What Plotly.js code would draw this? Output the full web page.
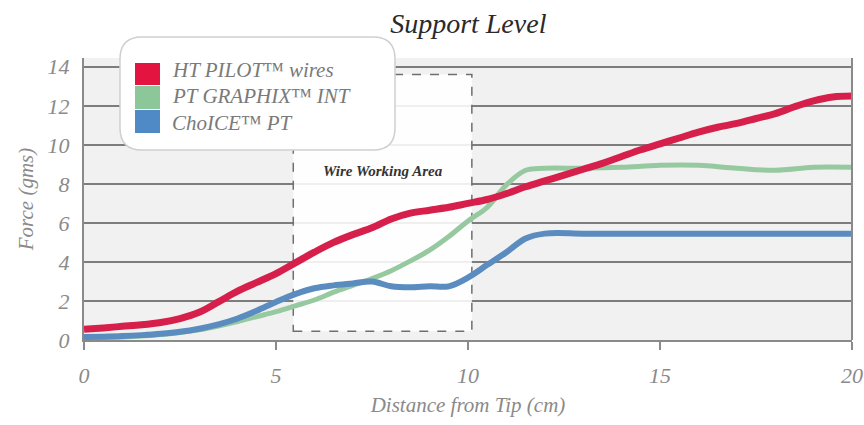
<!DOCTYPE html>
<html>
<head>
<meta charset="utf-8">
<script src="https://cdn.plot.ly/plotly-3.0.1.min.js"></script>
<style>html,body{margin:0;padding:0;background:#fff;}#chart{width:864px;height:425px;}</style>
</head>
<body>
<div id="chart"></div>
<script>
// ---- data ----
const seriesNames = ["HT PILOT\u2122 wires", "PT GRAPHIX\u2122 INT", "ChoICE\u2122 PT"];

const redX = [0,0.5,1,1.5,2,2.5,3,3.5,4,4.5,5,5.5,6,6.5,7,7.5,8,8.5,9,9.5,10,10.5,11,11.5,12,12.5,13,13.5,14,14.5,15,15.5,16,16.5,17,17.5,18,18.5,19,19.5,20];
const redY = [0.55,0.62,0.7,0.78,0.9,1.1,1.42,1.95,2.5,2.95,3.4,3.95,4.5,5.0,5.4,5.75,6.2,6.5,6.65,6.8,7.0,7.2,7.5,7.85,8.15,8.45,8.75,9.05,9.4,9.75,10.05,10.35,10.65,10.9,11.1,11.35,11.6,11.95,12.25,12.45,12.5];

const greenX = [0,0.5,1,1.5,2,2.5,3,3.5,4,4.5,5,5.5,6,6.5,7,7.5,8,8.5,9,9.5,10,10.5,11,11.5,12,13,14,15,16,17,18,19,20];
const greenY = [0.12,0.13,0.15,0.2,0.28,0.38,0.52,0.72,0.95,1.2,1.45,1.75,2.05,2.45,2.8,3.15,3.55,4.05,4.6,5.3,6.1,6.8,7.95,8.7,8.8,8.8,8.85,8.95,8.95,8.8,8.7,8.85,8.85];

const blueX = [0,0.5,1,1.5,2,2.5,3,3.5,4,4.5,5,5.5,6,6.5,7,7.5,8,8.5,9,9.5,10,10.5,11,11.5,12,13,14,15,16,17,18,19,20];
const blueY = [0.15,0.17,0.2,0.25,0.32,0.42,0.58,0.8,1.1,1.5,1.95,2.35,2.65,2.8,2.9,3.0,2.75,2.7,2.75,2.75,3.2,3.85,4.5,5.2,5.45,5.45,5.45,5.45,5.45,5.45,5.45,5.45,5.45];

const workArea = {x0: 5.45, x1: 10.1, y0: 0.45, y1: 13.6};
const workLabel = "Wire Working Area";

const yTicks = [0,2,4,6,8,10,12,14];
const xTicks = [0,5,10,15,20];

// ---- styling ----
const lineColors = ["#d61f4b", "#97c9a0", "#5a8cc0"];
const swatchColors = ["#e3143f", "#8cc79a", "#4f89c6"];
const serif = "Liberation Serif, Times New Roman, serif";
const grey = "#8a8a8a";

// layout geometry (px)
const M = {l: 84, r: 12, t: 58, b: 85};
const W = 864, H = 425;
const pw = W - M.l - M.r, ph = H - M.t - M.b;
const PX = px => (px - M.l) / pw;
const PY = py => (H - M.b - py) / ph;

const traces = [
  {x: greenX, y: greenY, name: seriesNames[1], mode: "lines", line: {color: lineColors[1], width: 5, shape: "spline"}, showlegend: false},
  {x: blueX, y: blueY, name: seriesNames[2], mode: "lines", line: {color: lineColors[2], width: 6, shape: "spline"}, showlegend: false},
  {x: redX, y: redY, name: seriesNames[0], mode: "lines", line: {color: lineColors[0], width: 7, shape: "spline"}, showlegend: false}
];

// legend rounded box
const lx0 = PX(120), lx1 = PX(395), lyT = PY(37), lyB = PY(150);
const rx = 22 / pw, ry = 22 / ph;
const boxPath = `M ${lx0+rx},${lyT} L ${lx1-rx},${lyT} Q ${lx1},${lyT} ${lx1},${lyT-ry} L ${lx1},${lyB+ry} Q ${lx1},${lyB} ${lx1-rx},${lyB} L ${lx0+rx},${lyB} Q ${lx0},${lyB} ${lx0},${lyB+ry} L ${lx0},${lyT-ry} Q ${lx0},${lyT} ${lx0+rx},${lyT} Z`;

const swatchRows = [[63, 85], [86, 109], [110, 133]];
const textRows = [70, 96, 123];

const shapes = [
  {type: "rect", xref: "x", yref: "y", x0: workArea.x0, x1: workArea.x1, y0: workArea.y0, y1: workArea.y1,
   fillcolor: "rgba(255,255,255,0.88)", line: {color: "#6f6f6f", width: 1.5, dash: "dash"}, layer: "between"},
  {type: "line", xref: "paper", yref: "paper", x0: 1, x1: 1, y0: 0, y1: 1, line: {color: "#8a8a8a", width: 2}},
  {type: "path", xref: "paper", yref: "paper", path: boxPath, fillcolor: "#ffffff", line: {color: "#cfcfcf", width: 1.5}, layer: "above"}
];
swatchRows.forEach((r, i) => {
  shapes.push({type: "rect", xref: "paper", yref: "paper", x0: PX(135), x1: PX(160), y0: PY(r[1]), y1: PY(r[0]),
    fillcolor: swatchColors[i], line: {width: 0}, layer: "above"});
});

const annotations = [
  {xref: "x", yref: "y", x: (workArea.x0 + workArea.x1) / 2, y: 8.65, text: "<b><i>" + workLabel + "</i></b>", showarrow: false,
   font: {family: serif, size: 15, color: "#333"}}
];
seriesNames.forEach((n, i) => {
  annotations.push({xref: "paper", yref: "paper", x: PX(170), y: PY(textRows[i]), xanchor: "left", yanchor: "middle",
    text: "<i>" + n + "</i>", showarrow: false, font: {family: serif, size: 21, color: "#7a7a7a"}});
});

const layout = {
  width: W, height: H,
  margin: M,
  paper_bgcolor: "#ffffff",
  plot_bgcolor: "#f1f1f1",
  title: {text: "<i>Support Level</i>", x: 0.542, xanchor: "center", y: 1 - 23 / H, yanchor: "middle", yref: "container",
    font: {family: serif, size: 28, color: "#2a2a2a"}},
  xaxis: {
    range: [0, 20], tickvals: xTicks, ticktext: xTicks.map(String),
    showgrid: false, zeroline: false, showline: true, linecolor: "#8a8a8a", linewidth: 2,
    ticks: "outside", ticklen: 8, tickcolor: "#8a8a8a", tickwidth: 1.5, ticklabelstandoff: 7,
    tickfont: {family: serif, size: 22, color: grey, style: "italic"},
    title: {text: "<i>Distance from Tip (cm)</i>", standoff: 10, font: {family: serif, size: 21, color: grey}},
    fixedrange: true
  },
  yaxis: {
    range: [0, 14.45], tickvals: yTicks, ticktext: yTicks.map(String),
    showgrid: true, gridcolor: "#7d7d7d", gridwidth: 2, zeroline: false,
    showline: true, linecolor: "#8a8a8a", linewidth: 2, ticks: "", ticklabelstandoff: 8,
    tickfont: {family: serif, size: 22, color: grey, style: "italic"},
    title: {text: "<i>Force (gms)</i>", standoff: 8, font: {family: serif, size: 21, color: grey}},
    fixedrange: true
  },
  shapes: shapes,
  annotations: annotations,
  showlegend: false
};

Plotly.newPlot("chart", traces, layout, {displayModeBar: false, staticPlot: true});
</script>
</body>
</html>
